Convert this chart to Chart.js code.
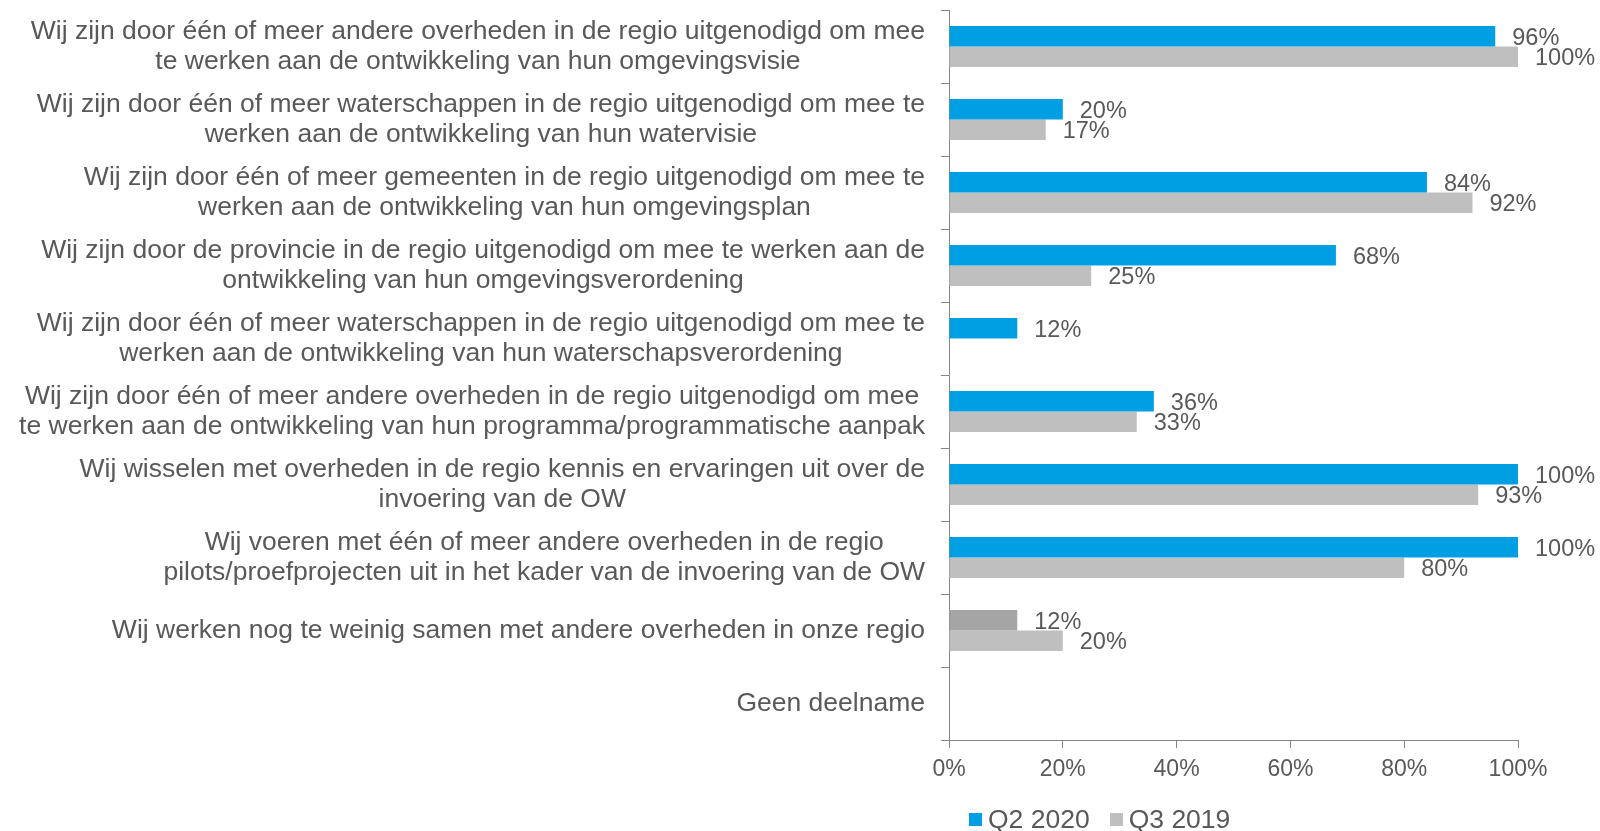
<!DOCTYPE html>
<html>
<head>
<meta charset="utf-8">
<script src="https://cdn.jsdelivr.net/npm/chart.js@4"></script>
<style>
  html, body { margin: 0; padding: 0; background: #fff; }
  #wrap { position: relative; width: 1600px; height: 831px; }
  #legend { position: absolute; left: 969px; top: 804px; display: flex; align-items: center;
            font-family: "Liberation Sans", Arial, sans-serif; font-size: 26.5px; color: #595959; }
  #legend span.box { display: inline-block; width: 13px; height: 13px; margin-right: 6px; }
  #legend span.item { display: flex; align-items: center; margin-right: 20px; }
</style>
</head>
<body>
<div id="wrap">
  <canvas id="chart"></canvas>
  <div id="legend"></div>
</div>
<script>
const categories = [
  ['Wij zijn door één of meer andere overheden in de regio uitgenodigd om mee', 'te werken aan de ontwikkeling van hun omgevingsvisie'],
  ['Wij zijn door één of meer waterschappen in de regio uitgenodigd om mee te', 'werken aan de ontwikkeling van hun watervisie'],
  ['Wij zijn door één of meer gemeenten in de regio uitgenodigd om mee te', 'werken aan de ontwikkeling van hun omgevingsplan'],
  ['Wij zijn door de provincie in de regio uitgenodigd om mee te werken aan de', 'ontwikkeling van hun omgevingsverordening'],
  ['Wij zijn door één of meer waterschappen in de regio uitgenodigd om mee te', 'werken aan de ontwikkeling van hun waterschapsverordening'],
  ['Wij zijn door één of meer andere overheden in de regio uitgenodigd om mee', 'te werken aan de ontwikkeling van hun programma/programmatische aanpak'],
  ['Wij wisselen met overheden in de regio kennis en ervaringen uit over de', 'invoering van de OW'],
  ['Wij voeren met één of meer andere overheden in de regio', 'pilots/proefprojecten uit in het kader van de invoering van de OW'],
  ['Wij werken nog te weinig samen met andere overheden in onze regio'],
  ['Geen deelname']
];
const seriesNames = ['Q2 2020', 'Q3 2019'];
const q2_2020 = [96, 20, 84, 68, 12, 36, 100, 100, 12, null];
const q3_2019 = [100, 17, 92, 25, null, 33, 93, 80, 20, null];
const xTicks = [0, 20, 40, 60, 80, 100];

const BLUE = '#009FE3';
const GREY = '#BFBFBF';
const DARKGREY = '#A5A5A5';
const TEXT = '#595959';
const AXIS = '#868686';
const FONT = '"Liberation Sans", Arial, sans-serif';

// bar 9 of the first series is drawn dark grey in the original
const q2Colors = q2_2020.map((v, i) => i === 8 ? DARKGREY : BLUE);

const catLabelPlugin = {
  id: 'catLabels',
  afterDraw(chart) {
    const ctx = chart.ctx;
    const y = chart.scales.y;
    const right = 925;
    const lh = 29.5;
    ctx.save();
    ctx.font = '26.5px ' + FONT;
    ctx.fillStyle = TEXT;
    ctx.textAlign = 'center';
    ctx.textBaseline = 'middle';
    categories.forEach((lines, i) => {
      const cy = y.getPixelForValue(i);
      const maxW = Math.max(...lines.map(l => ctx.measureText(l).width));
      const cx = right - maxW / 2;
      const y0 = cy - (lines.length - 1) * lh / 2;
      lines.forEach((l, j) => ctx.fillText(l, cx, y0 + j * lh));
    });
    ctx.restore();
  }
};

const valueLabelPlugin = {
  id: 'valueLabels',
  afterDatasetsDraw(chart) {
    const ctx = chart.ctx;
    ctx.save();
    ctx.font = '23.5px ' + FONT;
    ctx.fillStyle = TEXT;
    ctx.textAlign = 'left';
    ctx.textBaseline = 'middle';
    chart.data.datasets.forEach((ds, di) => {
      chart.getDatasetMeta(di).data.forEach((bar, i) => {
        const v = ds.data[i];
        if (v == null) return;
        ctx.fillText(v + '%', bar.x + 17, bar.y + 2);
      });
    });
    ctx.restore();
  }
};

new Chart(document.getElementById('chart'), {
  type: 'bar',
  data: {
    labels: categories.map(l => l.join(' ')),
    datasets: [
      { label: seriesNames[0], data: q2_2020, backgroundColor: q2Colors,
        categoryPercentage: 0.56, barPercentage: 1.0 },
      { label: seriesNames[1], data: q3_2019, backgroundColor: GREY,
        categoryPercentage: 0.56, barPercentage: 1.0 }
    ]
  },
  options: {
    indexAxis: 'y',
    responsive: true,
    maintainAspectRatio: false,
    animation: false,
    layout: { padding: { top: 10, right: 82, left: 0, bottom: 0 } },
    plugins: {
      legend: { display: false },
      tooltip: { enabled: false }
    },
    scales: {
      y: {
        type: 'category',
        offset: true,
        afterFit: s => { s.width = 949; },
        ticks: { display: false },
        grid: { display: true, offset: true, drawOnChartArea: false, tickLength: 8, color: AXIS },
        border: { color: AXIS, width: 1 }
      },
      x: {
        min: 0, max: 100,
        afterFit: s => { s.height = 91; },
        afterBuildTicks: s => { s.ticks = xTicks.map(v => ({ value: v })); },
        ticks: { callback: v => v + '%', color: TEXT, font: { family: FONT, size: 23 }, padding: 8, maxRotation: 0 },
        grid: { display: true, drawOnChartArea: false, tickLength: 8, color: AXIS },
        border: { color: AXIS, width: 1 }
      }
    }
  },
  plugins: [catLabelPlugin, valueLabelPlugin]
});

// legend
const legendEl = document.getElementById('legend');
[[seriesNames[0], BLUE], [seriesNames[1], GREY]].forEach(([name, col]) => {
  const item = document.createElement('span');
  item.className = 'item';
  const box = document.createElement('span');
  box.className = 'box';
  box.style.background = col;
  item.appendChild(box);
  item.appendChild(document.createTextNode(name));
  legendEl.appendChild(item);
});
</script>
</body>
</html>
